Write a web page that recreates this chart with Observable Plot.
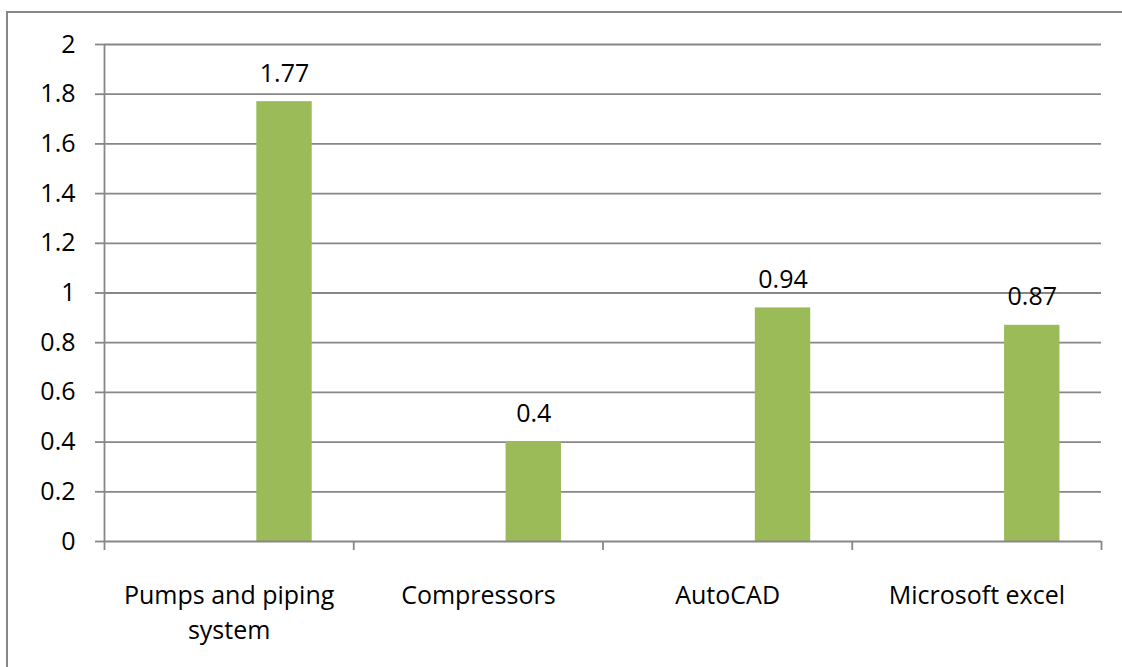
<!DOCTYPE html>
<html>
<head>
<meta charset="utf-8">
<script src="https://cdn.jsdelivr.net/npm/d3@7"></script>
<script src="https://cdn.jsdelivr.net/npm/@observablehq/plot@0.6"></script>
<style>
  html, body { margin: 0; padding: 0; background: #fff; overflow: hidden; }
  #frame { position: absolute; left: 6px; top: 11px; width: 1300px; height: 900px;
           border: 2px solid #878787; box-sizing: border-box; }
  #chart { position: absolute; left: 0; top: 0; }
</style>
</head>
<body>
<div id="frame"></div>
<div id="chart"></div>
<script>
// Categories and their values
const categories = ["Pumps and piping\nsystem", "Compressors", "AutoCAD", "Microsoft excel"];
const values = [1.77, 0.4, 0.94, 0.87];

// Value-axis ticks and their labels
const yTicks = [0, 0.2, 0.4, 0.6, 0.8, 1, 1.2, 1.4, 1.6, 1.8, 2];
const yTickLabels = ["0", "0.2", "0.4", "0.6", "0.8", "1", "1.2", "1.4", "1.6", "1.8", "2"];

// Clustered-column layout: three series slots per category with a 150% gap,
// the values occupy the third slot.
const seriesSlots = 3, slotIndex = 2, gapWidth = 1.5;
const slot = 1 / (seriesSlots + gapWidth);
const slotStart = (gapWidth / 2 + slotIndex) * slot;

const rows = categories.map((c, i) => ({category: c, index: i, value: values[i]}));

const lineColor = "#878787";
const barColor = "#9BBB59";

const chart = Plot.plot({
  width: 1122,
  height: 667,
  marginLeft: 104,
  marginRight: 21,
  marginTop: 44,
  marginBottom: 126,
  x: {domain: [0, categories.length]},
  y: {domain: [0, 2]},
  style: {fontFamily: "'Open Sans', sans-serif", fontSize: "25px", color: "#000", background: "transparent"},
  marks: [
    // horizontal gridlines
    Plot.ruleY(yTicks.filter(d => d > 0), {stroke: lineColor, strokeWidth: 1.8, strokeOpacity: 1}),
    // value axis with outward ticks
    Plot.axisY({
      ticks: yTicks,
      tickFormat: d => yTickLabels[yTicks.indexOf(d)],
      tickSize: 9,
      tickPadding: 20,
      stroke: lineColor,
      strokeWidth: 1.8,
      strokeOpacity: 1,
      fill: "#000",
      label: null
    }),
    Plot.ruleX([0], {y1: 0, y2: 2, stroke: lineColor, strokeWidth: 1.8}),
    // columns
    Plot.rectY(rows, {
      x1: d => d.index + slotStart,
      x2: d => d.index + slotStart + slot,
      y: "value",
      fill: barColor
    }),
    // value labels
    Plot.text(rows, {
      x: d => d.index + slotStart + slot / 2,
      y: "value",
      text: d => String(d.value),
      lineAnchor: "bottom",
      dy: -20,
      fill: "#000"
    }),
    // category axis line and boundary ticks
    Plot.ruleY([0], {stroke: lineColor, strokeWidth: 1.8}),
    Plot.axisX({
      ticks: d3.range(categories.length + 1),
      tickSize: 9,
      tickFormat: () => "",
      stroke: lineColor,
      strokeWidth: 1.8,
      strokeOpacity: 1,
      label: null
    }),
    // category labels centred in each category
    Plot.axisX({
      ticks: categories.map((_, i) => i + 0.5),
      tickFormat: d => categories[Math.floor(d)],
      tickSize: 0,
      tickPadding: 38,
      lineHeight: 1.4,
      fill: "#000",
      label: null
    })
  ]
});

document.getElementById("chart").append(chart);
</script>
</body>
</html>
